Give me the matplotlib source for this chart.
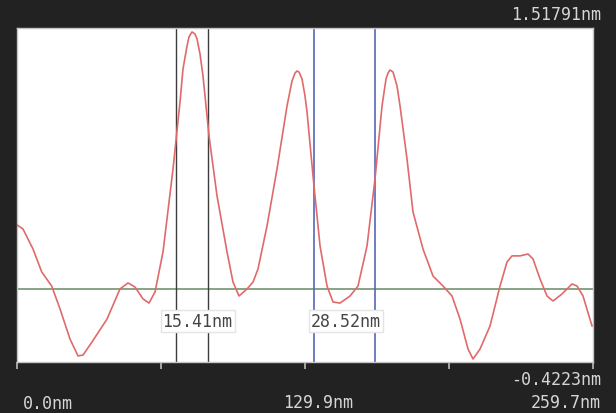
"""Section profile with two cursor pairs, drawn like the instrument screen."""
import matplotlib

matplotlib.use("Agg")
import matplotlib.pyplot as plt

# profile: position (nm) and height (nm)
pos_nm = [0.0, 2.71, 7.21, 11.14, 15.63, 19.39, 23.90, 27.50, 29.76, 33.82,
          40.58, 46.44, 50.05, 53.20, 56.81, 59.51, 62.22, 65.83, 70.34, 73.49,
          74.84, 76.65, 77.55, 78.90, 80.25, 81.16, 82.51, 83.86, 86.57, 90.18,
          94.69, 97.39, 100.09, 103.70, 106.41, 108.66, 112.72, 117.23, 121.74,
          123.99, 125.34, 126.25, 127.14, 128.50, 129.85, 130.76, 133.46,
          136.62, 139.77, 142.48, 145.63, 150.14, 153.75, 157.81, 161.41, 164.57,
          166.37, 167.27, 168.18, 169.53, 171.33, 172.69, 175.84, 178.54, 183.05,
          187.56, 192.07, 196.13, 199.74, 203.35, 205.60, 208.76, 213.26, 217.77,
          220.93, 223.18, 226.79, 230.40, 232.65, 235.81, 238.96, 241.67, 245.73,
          250.24, 252.49, 255.19, 259.25]
height_nm = [0.374, 0.350, 0.234, 0.101, 0.019, -0.114, -0.289, -0.387, -0.382, -0.306,
             -0.173, 0.002, 0.037, 0.013, -0.056, -0.080, -0.016, 0.217, 0.699, 1.088,
             1.280, 1.413, 1.466, 1.495, 1.483, 1.454, 1.367, 1.239, 0.891, 0.542,
             0.217, 0.042, -0.039, 0.002, 0.042, 0.118, 0.368, 0.699, 1.065,
             1.210, 1.256, 1.268, 1.262, 1.222, 1.123, 1.030, 0.658,
             0.252, 0.019, -0.074, -0.080, -0.039, 0.019, 0.252, 0.641, 1.065,
             1.222, 1.256, 1.274, 1.262, 1.181, 1.065, 0.757, 0.449, 0.234,
             0.077, 0.019, -0.039, -0.173, -0.347, -0.405, -0.347, -0.213, 0.019,
             0.159, 0.194, 0.194, 0.205, 0.176, 0.060, -0.039, -0.068, -0.027,
             0.031, 0.019, -0.039, -0.213]

x_range = (0.0, 259.7)
z_range = (-0.4223, 1.51791)
ticks_nm = [0.0, 64.9, 129.9, 194.8, 259.7]

cursor_black = [71.69, 86.12]
cursor_blue = [133.91, 161.41]
cursor_labels = ["15.41nm", "28.52nm"]
label_x = [81.4, 148.3]

BG = "#222222"
FG = "#d6d6d6"
MONO = "DejaVu Sans Mono"

fig = plt.figure(figsize=(6.16, 4.14), dpi=100, facecolor=BG)
ax = fig.add_axes([0.0276, 0.1232, 0.9351, 0.8068])
ax.set_facecolor("white")

ax.axhline(0.0, color="#7f9c7c", lw=1.3, zorder=1)
for xv in cursor_black:
    ax.axvline(xv, color="#3c3c3c", lw=1.0, zorder=2)
for xv in cursor_blue:
    ax.axvline(xv, color="#5566b8", lw=1.2, zorder=2)

ax.plot(pos_nm, height_nm, color="#e06a6a", lw=1.2, zorder=3,
        solid_joinstyle="round")

for lx, txt in zip(label_x, cursor_labels):
    ax.text(lx, -0.184, txt, ha="center", va="center", fontsize=12,
            family=MONO, color="#444444", zorder=4,
            bbox=dict(facecolor="white", edgecolor="#e4e4e4", pad=1.5))

ax.set_xlim(*x_range)
ax.set_ylim(*z_range)
ax.set_xticks(ticks_nm)
ax.set_xticklabels([])
ax.set_yticks([])
ax.tick_params(axis="x", direction="out", length=5, width=1.2, color="#bbbbbb")
for s in ax.spines.values():
    s.set_color("#c4c4c4")
    s.set_linewidth(1.0)

kw = dict(family=MONO, fontsize=12, color=FG)
fig.text(0.9756, 0.9638, "1.51791nm", ha="right", va="center", **kw)
fig.text(0.9756, 0.0821, "-0.4223nm", ha="right", va="center", **kw)
fig.text(0.0373, 0.0242, "0.0nm", ha="left", va="center", **kw)
fig.text(0.516, 0.0266, "129.9nm", ha="center", va="center", **kw)
fig.text(0.9756, 0.0266, "259.7nm", ha="right", va="center", **kw)

fig.savefig("out.png", dpi=100, facecolor=BG)
